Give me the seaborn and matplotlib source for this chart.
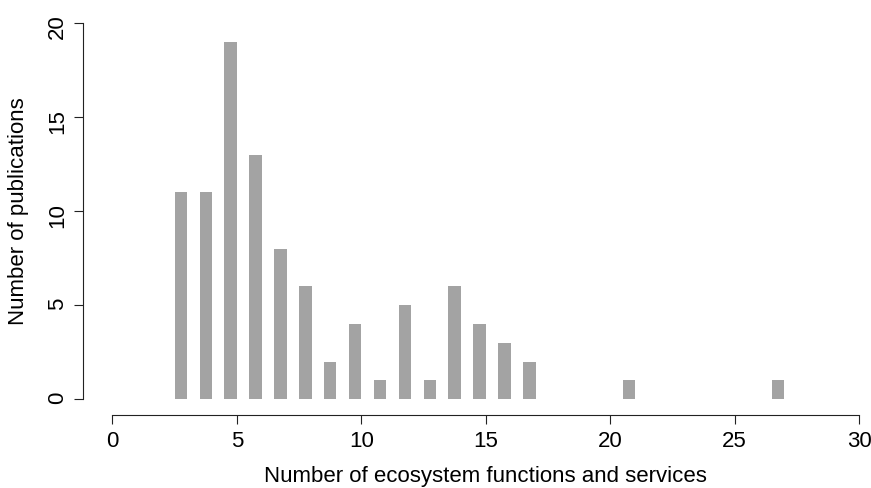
import numpy as np
import seaborn as sns
import matplotlib
matplotlib.use("Agg")
import matplotlib.pyplot as plt

# number of ecosystem functions/services per publication -> count of publications
n_functions = [3, 4, 5, 6, 7, 8, 9, 10, 11, 12, 13, 14, 15, 16, 17, 21, 27]
n_publications = [11, 11, 19, 13, 8, 6, 2, 4, 1, 5, 1, 6, 4, 3, 2, 1, 1]

x_ticks = [0, 5, 10, 15, 20, 25, 30]
y_ticks = [0, 5, 10, 15, 20]

sns.set_style("ticks")
plt.rcParams['font.family'] = ['Liberation Sans', 'DejaVu Sans']
plt.rcParams['text.color'] = 'black'
plt.rcParams['axes.labelcolor'] = 'black'
plt.rcParams['xtick.color'] = '#222222'
plt.rcParams['ytick.color'] = '#222222'

fig = plt.figure(figsize=(8.71, 4.88), dpi=100)
ax = fig.add_axes([0.12916, 0.18176, 0.85706, 0.77172])

# R-style bars: each bar sits just left of its integer value
ax.bar(n_functions, n_publications, width=-0.5, align='edge',
       color='#A3A3A3', edgecolor='none', linewidth=0)

ax.set_xlim(0, 30)
ax.set_ylim(0, 20)
ax.set_xticks(x_ticks)
ax.set_yticks(y_ticks)

ax.tick_params(axis='both', length=6.5, width=0.8, labelsize=16,
               labelcolor='black')
ax.tick_params(axis='x', pad=5)
ax.tick_params(axis='y', pad=4, labelrotation=90)
for lbl in ax.get_yticklabels():
    lbl.set_verticalalignment('center')

for side in ['left', 'bottom']:
    ax.spines[side].set_color('#222222')
    ax.spines[side].set_linewidth(0.8)

sns.despine(ax=ax, offset={'left': 21.5, 'bottom': 11}, trim=True)

ax.set_xlabel("Number of ecosystem functions and services", fontsize=16,
              va='center')
ax.set_ylabel("Number of publications", fontsize=16, va='center')
ax.xaxis.set_label_coords(0.5, -0.2037)
ax.yaxis.set_label_coords(-0.1253, 0.5)

fig.savefig("out.png", dpi=100)
